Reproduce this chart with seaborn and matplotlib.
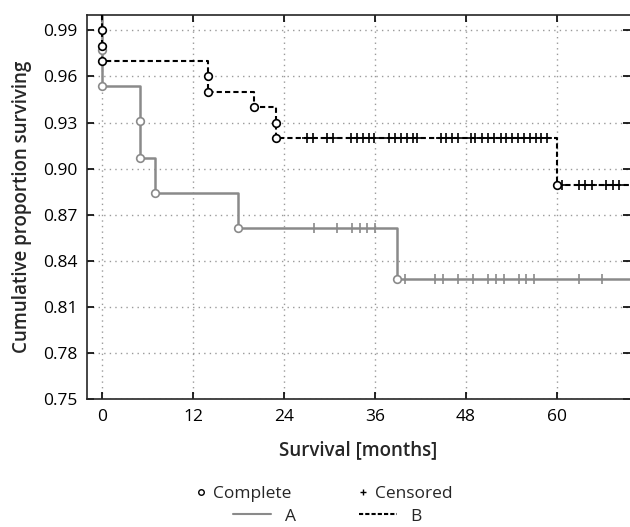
import matplotlib
matplotlib.use("Agg")
import matplotlib.pyplot as plt
from matplotlib.lines import Line2D
import pandas as pd
import seaborn as sns

sns.set_style("ticks")
plt.rcParams['font.family'] = ['Open Sans', 'DejaVu Sans']

#########################
#        DATA           #
#########################
# group A: step curve (time in months, cumulative survival)
a_time = [0, 0, 0, 5, 5, 7, 18, 39, 70]
a_surv = [1.0, 0.977, 0.954, 0.931, 0.907, 0.884, 0.861, 0.828, 0.828]
# complete (event) points of A
a_event_time = [0, 0, 5, 5, 7, 18, 39]
a_event_surv = [0.977, 0.954, 0.931, 0.907, 0.884, 0.861, 0.828]
# censored points of A
a_cens_time = [28, 31, 33, 34, 35, 36,
               40, 44, 45, 47, 49, 51, 52, 53, 55, 56, 57, 63, 66]
a_cens_surv = [0.861] * 6 + [0.828] * 13

# group B
b_time = [0, 0, 0, 0, 14, 14, 20, 23, 23, 60, 70]
b_surv = [1.0, 0.99, 0.98, 0.97, 0.96, 0.95, 0.94, 0.93, 0.92, 0.889, 0.889]
b_event_time = [0, 0, 0, 14, 14, 20, 23, 23, 60]
b_event_surv = [0.99, 0.98, 0.97, 0.96, 0.95, 0.94, 0.93, 0.92, 0.889]
b_cens_time = [27.1, 27.9, 29.7, 30.5, 32.9, 33.7, 34.5, 35.2, 35.9,
               37.9, 38.7, 39.5, 40.3, 41.0, 41.6, 44.7, 45.4, 46.2, 47.0,
               48.7, 49.3, 50.1, 51.0, 51.8, 52.7, 53.3, 54.1, 54.9, 55.7,
               56.5, 57.3, 58.0, 58.7,
               60.7, 63.0, 63.8, 64.7, 66.5, 67.4, 68.3]
b_cens_surv = [0.92] * 33 + [0.889] * 7

x_ticks = [0, 12, 24, 36, 48, 60]
y_ticks = [0.75, 0.78, 0.81, 0.84, 0.87, 0.90, 0.93, 0.96, 0.99]

gray = '#8a8a8a'

fig = plt.figure(figsize=(6.3, 5.27), dpi=100)
ax = fig.add_axes([0.138, 0.243, 0.862, 0.7285])

# curves
sns.lineplot(x=a_time, y=a_surv, ax=ax, color=gray, linewidth=1.8,
             drawstyle='steps-post', sort=False, estimator=None, zorder=2)
sns.lineplot(x=b_time, y=b_surv, ax=ax, color='black', linewidth=1.5,
             drawstyle='steps-post', sort=False, estimator=None, zorder=3,
             dashes=False, linestyle=(0, (2.5, 1.5)))

# censored marks
ax.plot(a_cens_time, a_cens_surv, ls='none', marker='|', ms=7, mew=1.2,
        color=gray, zorder=4)
ax.plot(b_cens_time, b_cens_surv, ls='none', marker='+', ms=7, mew=1.2,
        color='black', zorder=4)

# complete events
ax.plot(a_event_time, a_event_surv, ls='none', marker='o', ms=5.5, mew=1.2,
        mfc='white', mec=gray, zorder=5)
ax.plot(b_event_time, b_event_surv, ls='none', marker='o', ms=5.5, mew=1.2,
        mfc='white', mec='black', zorder=6)

ax.set_xlim(-2, 69.7)
ax.set_ylim(0.75, 1.0)
ax.set_xticks(x_ticks)
ax.set_yticks(y_ticks)
ax.set_yticklabels([f'{v:.2f}' for v in y_ticks])
ax.grid(True, linestyle=(0, (1, 3)), color='#9a9a9a', linewidth=1)
ax.tick_params(direction='in', length=5, width=1.2, labelsize=12.5,
               top=True, right=True, colors='black', pad=7)
ax.spines['right'].set_visible(False)
for s in ['left', 'top', 'bottom']:
    ax.spines[s].set_linewidth(1.2)

ax.set_xlabel('Survival [months]', fontsize=13.5, fontweight='semibold', labelpad=11)
ax.set_ylabel('Cumulative proportion surviving', fontsize=13.5, fontweight='semibold', labelpad=8)

# legends
h_marks = [Line2D([], [], ls='none', marker='o', ms=4, mfc='white', mec='black', mew=1),
           Line2D([], [], ls='none', marker='+', ms=5, color='black', mew=1)]
fig.legend(h_marks, ['Complete', 'Censored'], ncol=2, loc='center',
           bbox_to_anchor=(0.515, 0.062), frameon=False, fontsize=12.5,
           handlelength=0.6, handletextpad=0.4, columnspacing=3.8)
h_lines = [Line2D([], [], color=gray, lw=1.5),
           Line2D([], [], color='black', lw=1.5, ls=(0, (2, 1)))]
fig.legend(h_lines, ['A', 'B'], ncol=2, loc='center',
           bbox_to_anchor=(0.52, 0.02), frameon=False, fontsize=12.5,
           handlelength=2.2, handletextpad=0.8, columnspacing=3.6)

fig.savefig('out.png', dpi=100)
